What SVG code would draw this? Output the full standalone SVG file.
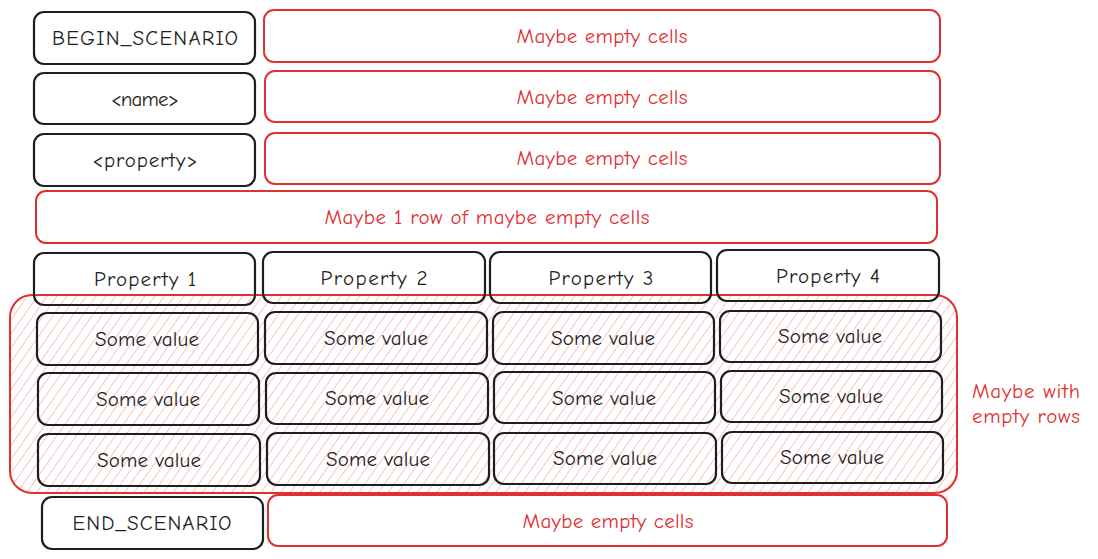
<svg xmlns="http://www.w3.org/2000/svg" width="1098" height="559" viewBox="0 0 1098 559">
<defs>
<pattern id="hatch" patternUnits="userSpaceOnUse" width="8" height="8" patternTransform="rotate(35)">
<line x1="0" y1="0" x2="0" y2="8" stroke="#ffb3b3" stroke-width="1.6"/>
</pattern>
</defs>
<style>
.k{fill:none;stroke:#1e1e1e;stroke-width:2.2}
.r{fill:none;stroke:#e03131;stroke-width:2}
.tk{font-family:"Comic Neue","Noto Sans",sans-serif;font-size:21px;fill:#1e1e1e;text-anchor:middle;dominant-baseline:central}
.tr{font-family:"Comic Neue","Noto Sans",sans-serif;font-size:21px;fill:#e03131;text-anchor:middle;dominant-baseline:central}
.tl{font-family:"Comic Neue","Noto Sans",sans-serif;font-size:21px;fill:#e03131}
</style>
<rect width="1098" height="559" fill="#ffffff"/>
<g id="values-area">
<rect x="10" y="295" width="947" height="198" rx="22" fill="url(#hatch)" stroke="#e03131" stroke-width="2"/>
</g>
<g id="begin"><rect class="k" x="34" y="12" width="221" height="52" rx="10"/><text class="tk" x="145" y="38" textLength="186">BEGIN_SCENARIO</text></g>
<g id="begin-cells"><rect class="r" x="264" y="10" width="676" height="52" rx="10"/><text class="tr" x="602" y="36" textLength="171">Maybe empty cells</text></g>
<g id="name"><rect class="k" x="34" y="73" width="221" height="51" rx="10"/><text class="tk" x="145" y="99" textLength="68">&lt;name&gt;</text></g>
<g id="name-cells"><rect class="r" x="265" y="71" width="675" height="51" rx="10"/><text class="tr" x="602" y="97" textLength="171">Maybe empty cells</text></g>
<g id="property"><rect class="k" x="34" y="134" width="221" height="52" rx="10"/><text class="tk" x="145" y="160" textLength="105">&lt;property&gt;</text></g>
<g id="property-cells"><rect class="r" x="265" y="133" width="675" height="51" rx="10"/><text class="tr" x="602" y="158" textLength="171">Maybe empty cells</text></g>
<g id="maybe-row"><rect class="r" x="36" y="191" width="901" height="52" rx="10"/><text class="tr" x="487" y="217" textLength="325">Maybe 1 row of maybe empty cells</text></g>
<g id="prop1"><rect class="k" x="34" y="253" width="221" height="52" rx="10"/><text class="tk" x="145" y="279" textLength="102">Property 1</text></g>
<g id="prop2"><rect class="k" x="263" y="252" width="222" height="51" rx="10"/><text class="tk" x="374" y="278" textLength="107">Property 2</text></g>
<g id="prop3"><rect class="k" x="490" y="252" width="221" height="51" rx="10"/><text class="tk" x="601" y="278" textLength="105">Property 3</text></g>
<g id="prop4"><rect class="k" x="717" y="250" width="222" height="51" rx="10"/><text class="tk" x="828" y="276" textLength="104">Property 4</text></g>
<g id="v-a1"><rect class="k" x="37" y="313" width="221" height="52" rx="10"/><text class="tk" x="147" y="339" textLength="104">Some value</text></g>
<g id="v-a2"><rect class="k" x="265" y="312" width="222" height="52" rx="10"/><text class="tk" x="376" y="338" textLength="104">Some value</text></g>
<g id="v-a3"><rect class="k" x="493" y="312" width="221" height="52" rx="10"/><text class="tk" x="603" y="338" textLength="104">Some value</text></g>
<g id="v-a4"><rect class="k" x="720" y="311" width="221" height="51" rx="10"/><text class="tk" x="830" y="336" textLength="104">Some value</text></g>
<g id="v-b1"><rect class="k" x="38" y="373" width="221" height="52" rx="10"/><text class="tk" x="148" y="399" textLength="104">Some value</text></g>
<g id="v-b2"><rect class="k" x="266" y="373" width="222" height="51" rx="10"/><text class="tk" x="377" y="398" textLength="104">Some value</text></g>
<g id="v-b3"><rect class="k" x="494" y="372" width="221" height="51" rx="10"/><text class="tk" x="604" y="398" textLength="104">Some value</text></g>
<g id="v-b4"><rect class="k" x="721" y="371" width="221" height="51" rx="10"/><text class="tk" x="831" y="396" textLength="104">Some value</text></g>
<g id="v-c1"><rect class="k" x="38" y="434" width="222" height="52" rx="10"/><text class="tk" x="149" y="460" textLength="104">Some value</text></g>
<g id="v-c2"><rect class="k" x="267" y="433" width="222" height="52" rx="10"/><text class="tk" x="378" y="459" textLength="104">Some value</text></g>
<g id="v-c3"><rect class="k" x="494" y="433" width="222" height="51" rx="10"/><text class="tk" x="605" y="458" textLength="104">Some value</text></g>
<g id="v-c4"><rect class="k" x="722" y="432" width="221" height="51" rx="10"/><text class="tk" x="832" y="457" textLength="104">Some value</text></g>
<g id="end"><rect class="k" x="42" y="497" width="221" height="52" rx="10"/><text class="tk" x="152" y="523" textLength="159">END_SCENARIO</text></g>
<g id="end-cells"><rect class="r" x="268" y="495" width="679" height="51" rx="10"/><text class="tr" x="608" y="521" textLength="171">Maybe empty cells</text></g>
<g id="note"><text class="tl" x="972" y="398" textLength="108">Maybe with</text><text class="tl" x="972" y="423" textLength="108">empty rows</text></g>
<g id="connectors"></g>
</svg>
